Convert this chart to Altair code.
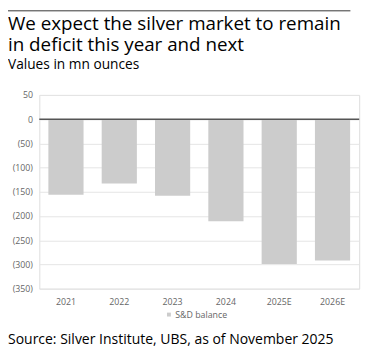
import altair as alt
import pandas as pd

years = ["2021", "2022", "2023", "2024", "2025E", "2026E"]
balance = [-156, -133, -158, -211, -299, -292]
series_name = "S&D balance"
y_ticks = [50, 0, -50, -100, -150, -200, -250, -300, -350]

title_lines = ["We expect the silver market to remain", "in deficit this year and next"]
subtitle = "Values in mn ounces"
source = "Source: Silver Institute, UBS, as of November 2025"

FONT = "Open Sans"
W, H = 327, 198

df = pd.DataFrame({"year": years, "value": balance, "series": [series_name] * len(years)})

bars = alt.Chart(df).mark_bar(color="#cccccc").encode(
    x=alt.X("year:N", sort=years,
            scale=alt.Scale(paddingInner=0.34, paddingOuter=0.17),
            axis=alt.Axis(title=None, labelAngle=0, ticks=False, domain=False, grid=False,
                          labelFont=FONT, labelFontSize=9, labelColor="#666666", labelPadding=9)),
    y=alt.Y("value:Q", scale=alt.Scale(domain=[-350, 50], nice=False),
            axis=alt.Axis(title=None, values=y_ticks, ticks=False, domain=False,
                          labelOverlap=False,
                          gridColor="#e4e4e4", gridWidth=1,
                          labelFont=FONT, labelFontSize=9, labelColor="#666666", labelPadding=7,
                          labelExpr="datum.value < 0 ? '(' + abs(datum.value) + ')' : '' + datum.value")),
    color=alt.Color("series:N", scale=alt.Scale(range=["#cccccc"]),
                    legend=alt.Legend(title=None, orient="none", legendX=128, legendY=220,
                                      symbolType="square", symbolSize=16,
                                      labelFont=FONT, labelFontSize=9, labelColor="#666666",
                                      labelOffset=2)),
)

zero = alt.Chart(pd.DataFrame({"z": [0]})).mark_rule(color="#555555", strokeWidth=1.5).encode(
    y=alt.Y("z:Q", axis=None))

top_rule = alt.Chart(pd.DataFrame({"a": [0]})).mark_rule(color="#333333", strokeWidth=1, clip=False).encode(
    x=alt.value(-40), x2=alt.value(318), y=alt.value(-86))

def text_layer(txt, y, size, color="#000000"):
    return alt.Chart(pd.DataFrame({"t": [txt]})).mark_text(
        align="left", baseline="alphabetic", font=FONT, fontSize=size, color=color, clip=False
    ).encode(x=alt.value(-32), y=alt.value(y), text="t:N")

t1 = text_layer(title_lines[0], -66, 19.2)
t2 = text_layer(title_lines[1], -45, 19.2)
t3 = text_layer(subtitle, -27, 14)
t4 = text_layer(source, 255, 14.3)

chart = alt.layer(bars, zero, top_rule, t1, t2, t3, t4).resolve_axis(y="independent").properties(
    width=W, height=H,
    autosize=alt.AutoSizeParams(type="none"),
    padding={"left": 32, "top": 85, "right": 9, "bottom": 67},
).configure_view(stroke=None).configure(background="#ffffff")

chart.save("out.html", embed_options={"renderer": "svg", "actions": False})
